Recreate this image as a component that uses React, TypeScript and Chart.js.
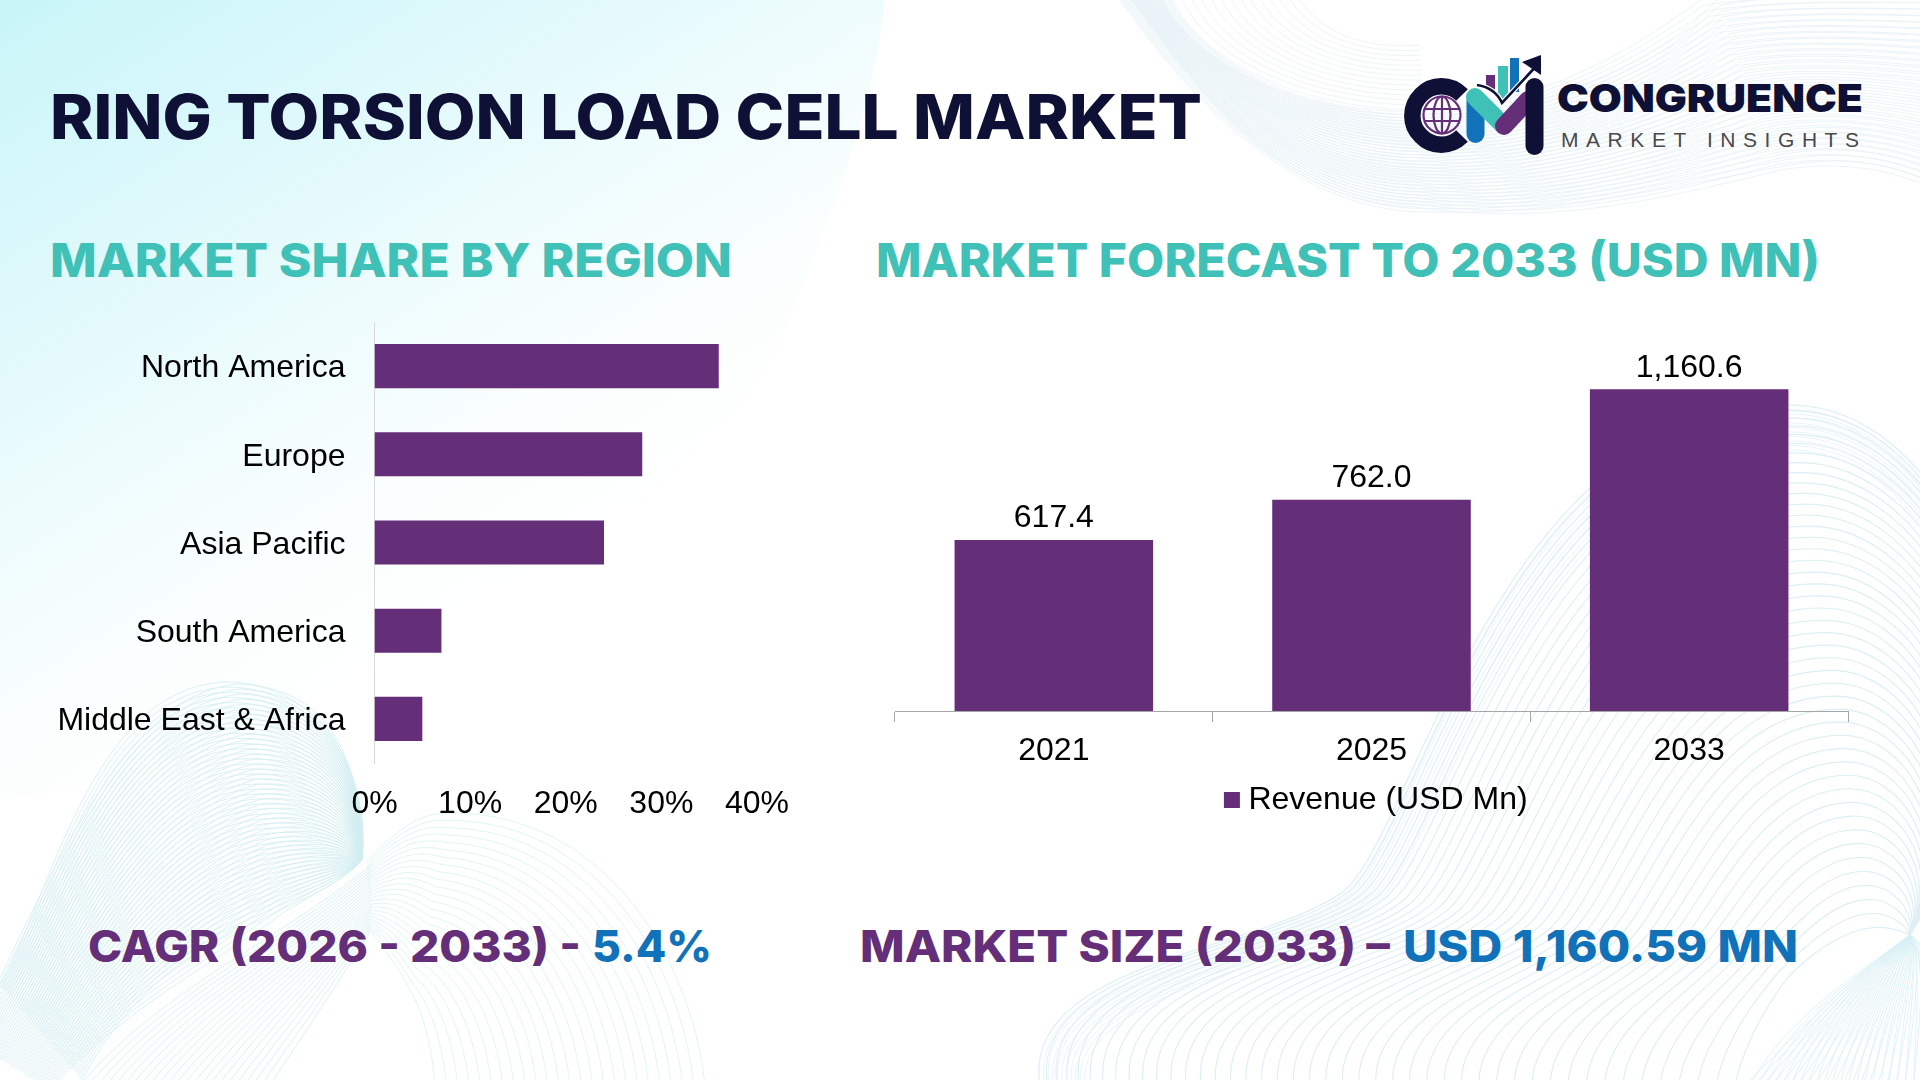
import { useEffect, useRef } from "react";
import { Chart, registerables } from "chart.js";

Chart.register(...registerables);

const regions = ["North America", "Europe", "Asia Pacific", "South America", "Middle East & Africa"];
const regionShares = [36, 28, 24, 7, 5];
const shareTickStep = 10;
const shareMax = 40;

const years = ["2021", "2025", "2033"];
const revenue = [617.4, 762.0, 1160.6];
const revenueLabel = "Revenue (USD Mn)";
const revenueMax = 1400;

const BAR = "#642e78";
const TICK_FONT = { family: "'Liberation Sans'", size: 32 };

// bar value labels, there is no datalabels package here
const valueLabels = {
  id: "valueLabels",
  afterDatasetsDraw(chart) {
    const { ctx } = chart;
    ctx.save();
    ctx.font = "32px 'Liberation Sans'";
    ctx.fillStyle = "#000";
    ctx.textAlign = "center";
    ctx.textBaseline = "middle";
    chart.getDatasetMeta(0).data.forEach((bar, i) => {
      const text = revenue[i].toLocaleString("en-US", { minimumFractionDigits: 1 });
      ctx.fillText(text, bar.x, bar.y - 21.5);
    });
    ctx.restore();
  },
};

const ShareChart = () => {
  const ref = useRef(null);
  useEffect(() => {
    const chart = new Chart(ref.current, {
      type: "bar",
      data: {
        labels: regions,
        datasets: [{ data: regionShares, backgroundColor: BAR, barPercentage: 0.5, categoryPercentage: 1 }],
      },
      options: {
        indexAxis: "y",
        animation: false,
        responsive: false,
        layout: { padding: { top: 22, right: 63 } },
        plugins: { legend: { display: false }, tooltip: { enabled: false } },
        scales: {
          x: {
            min: 0,
            max: shareMax,
            grid: { display: false },
            border: { display: false },
            afterFit: (s) => { s.height = 57; },
            ticks: {
              stepSize: shareTickStep,
              color: "#000",
              font: TICK_FONT,
              padding: 14,
              maxRotation: 0,
              callback: (v) => v + "%",
            },
          },
          y: {
            grid: { display: false, drawTicks: false },
            border: { color: "#d9d9d9" },
            // the label padding would otherwise push the plot top down
            afterFit: (s) => {
              s.width = 374.5;
              s.paddingTop = 0;
              s.paddingBottom = 0;
            },
            ticks: { color: "#000", font: TICK_FONT, padding: 29, labelOffset: 2.5 },
          },
        },
      },
    });
    return () => chart.destroy();
  }, []);
  return (
    <canvas ref={ref} width={820} height={520} style={{ position: "absolute", left: 0, top: 300 }} />
  );
};

const RevenueChart = () => {
  const ref = useRef(null);
  useEffect(() => {
    const chart = new Chart(ref.current, {
      type: "bar",
      data: {
        labels: years,
        datasets: [
          { label: revenueLabel, data: revenue, backgroundColor: BAR, borderWidth: 0, barPercentage: 0.625, categoryPercentage: 1 },
        ],
      },
      plugins: [valueLabels],
      options: {
        animation: false,
        responsive: false,
        layout: { padding: { top: 13, left: 56, right: 56 } },
        plugins: {
          tooltip: { enabled: false },
          legend: {
            position: "bottom",
            labels: {
              color: "#000",
              font: TICK_FONT,
              usePointStyle: true,
              pointStyle: "rect",
              boxWidth: 1,
              boxHeight: 16,
              padding: 10,
            },
          },
        },
        scales: {
          x: {
            grid: { offset: true, drawOnChartArea: false, color: "#a6a6a6", tickLength: 11 },
            border: { color: "#a6a6a6" },
            afterFit: (s) => { s.height = 63; },
            ticks: { color: "#000", font: TICK_FONT, padding: 10 },
          },
          // hidden, its width only moves the legend centre to the right of the plot centre
          y: {
            position: "right",
            min: 0,
            max: revenueMax,
            grid: { display: false },
            border: { display: false },
            ticks: { display: false },
            afterFit: (s) => { s.width = 16; },
          },
        },
      },
    });
    return () => chart.destroy();
  }, []);
  return (
    <canvas ref={ref} width={1081} height={516} style={{ position: "absolute", left: 839, top: 310 }} />
  );
};

// background line ribbons: each one blends between two edge curves
const lerpPath = (a, b, t) => {
  const p = a.map((v, i) => (v + (b[i] - v) * t).toFixed(1));
  let d = `M${p[0]} ${p[1]}`;
  for (let i = 2; i < p.length; i += 6) {
    d += `C${p[i]} ${p[i + 1]} ${p[i + 2]} ${p[i + 3]} ${p[i + 4]} ${p[i + 5]}`;
  }
  return d;
};

const Ribbon = ({ a, b, n, color, width = 1, power = 1 }) => (
  <g fill="none" stroke={color} strokeWidth={width}>
    {Array.from({ length: n + 1 }, (_, i) => (
      <path key={i} d={lerpPath(a, b, Math.pow(i / n, power))} />
    ))}
  </g>
);

const wideEdge = [1040, 1085, 1020, 960, 1270, 950, 1345, 890, 1415, 830, 1500, 405, 1790, 405, 1940, 405, 2080, 650, 1910, 935];

const Background = () => (
  <svg width={1920} height={1080} style={{ position: "absolute", left: 0, top: 0 }}>
    <defs>
      <linearGradient id="wash" gradientUnits="userSpaceOnUse" x1={0} y1={0} x2={560} y2={900}>
        <stop offset="0" stopColor="#c8f5f8" />
        <stop offset="0.2" stopColor="#daf8fb" />
        <stop offset="0.44" stopColor="#effcfd" />
        <stop offset="0.6" stopColor="#fbfefe" />
        <stop offset="0.75" stopColor="#ffffff" />
      </linearGradient>
    </defs>
    <rect width={1920} height={1080} fill="#fff" />
    <path d="M0 0L885 0C870 130 820 240 780 340C700 520 300 760 0 800Z" fill="url(#wash)" />

    {/* bottom left */}
    <Ribbon a={[0, 985, 50, 900, 90, 690, 223, 682, 310, 680, 372, 760, 362, 860]}
      b={[82, 1080, 130, 990, 190, 950, 260, 920, 300, 900, 340, 885, 362, 860]} n={46} color="#d2edf1" width={0.8} />
    <Ribbon a={[-30, 1040, 40, 900, 120, 690, 240, 684, 340, 690, 360, 770, 362, 860]}
      b={[50, 1090, 120, 1010, 220, 960, 280, 915, 310, 895, 345, 880, 362, 860]} n={46} color="#d2edf1" width={0.8} />
    <Ribbon a={[371, 865, 280, 940, 160, 990, 80, 1085]} b={[371, 930, 340, 980, 300, 1040, 270, 1085]} n={22} color="#dcf2f4" />
    <Ribbon a={[366, 862, 410, 815, 430, 813, 455, 813, 600, 815, 690, 950, 705, 1085]}
      b={[371, 930, 385, 950, 400, 970, 410, 990, 425, 1015, 432, 1050, 435, 1085]} n={24} color="#e2f5f6" />

    {/* bottom right */}
    <Ribbon a={wideEdge}
      b={[1735, 1085, 1745, 1040, 1770, 1000, 1790, 975, 1820, 945, 1850, 930, 1870, 928, 1885, 926, 1900, 930, 1910, 935]}
      n={44} color="#dceef6" width={1.1} power={1.2} />
    <Ribbon a={wideEdge}
      b={[1085, 1085, 1075, 990, 1300, 970, 1375, 905, 1445, 845, 1530, 450, 1790, 450, 1930, 450, 2050, 670, 1910, 935]}
      n={10} color="#e3f1f8" width={0.8} />
    <Ribbon a={[1910, 935, 1880, 960, 1790, 1010, 1750, 1085]} b={[1910, 935, 1925, 960, 1930, 990, 1930, 1085]} n={22} color="#d8f0f5" width={0.8} />
    <Ribbon a={[1910, 935, 1860, 970, 1810, 1020, 1745, 1085]} b={[1910, 935, 1935, 950, 1940, 1000, 1940, 1085]} n={22} color="#d8f0f5" width={0.8} />

    {/* top right */}
    <Ribbon a={[1131, 0, 1180, 60, 1260, 200, 1414, 207, 1540, 225, 1640, 205, 1780, 170, 1840, 160, 1890, 170, 1925, 185]}
      b={[1163, 0, 1190, 60, 1290, 115, 1424, 115, 1520, 115, 1640, 80, 1717, 0, 1760, -10, 1840, -10, 1925, -10]}
      n={30} color="#e6f1f6" width={0.8} />
    <Ribbon a={[1120, 0, 1170, 70, 1280, 215, 1430, 212, 1560, 215, 1650, 190, 1790, 165, 1850, 155, 1890, 165, 1925, 180]}
      b={[1170, 0, 1210, 70, 1310, 120, 1440, 110, 1540, 100, 1620, 60, 1700, 0, 1760, -10, 1840, -10, 1925, -10]}
      n={30} color="#e6f1f6" width={0.8} />
    <Ribbon a={[1163, 0, 1190, 60, 1290, 115, 1424, 115]} b={[1300, 0, 1320, 30, 1360, 50, 1420, 45]} n={14} color="#eef5f9" />
  </svg>
);

const Heading = ({ x, y, w, size, color, children, weight = 800, family = "Inter", adjust = "spacingAndGlyphs" }) => (
  <text x={x} y={y} textLength={w} lengthAdjust={adjust} fontFamily={family} fontWeight={weight} fontSize={size} fill={color}>
    {children}
  </text>
);

const Logo = () => (
  <g>
    {/* C and globe */}
    <path d="M1462 95A29 29 0 1 0 1462 136" fill="none" stroke="#0f1035" strokeWidth={16.5} />
    <g fill="none" stroke="#642e78" strokeWidth={2.2}>
      <circle cx={1442} cy={115} r={18.5} />
      <ellipse cx={1442} cy={115} rx={8.5} ry={18.5} />
      <path d="M1442 96.500V133.500M1424 109H1460M1424 121H1460" />
    </g>
    {/* M */}
    <path d="M1475.500 101V134" stroke="#1272b9" strokeWidth={18} strokeLinecap="round" />
    <path d="M1475 97L1503 125" stroke="#3fc1b7" strokeWidth={18} strokeLinecap="round" />
    <path d="M1504 126L1528 100" stroke="#642e78" strokeWidth={18} strokeLinecap="round" />
    <path d="M1534.500 87V146" stroke="#0f1035" strokeWidth={18} strokeLinecap="round" />
    {/* bars and arrow */}
    <rect x={1486} y={75} width={9} height={15} fill="#642e78" />
    <rect x={1498} y={66} width={10} height={34} fill="#3fc1b7" />
    <rect x={1510} y={58} width={9} height={34} fill="#1272b9" />
    <path d="M1477 85C1490 87 1498 94 1502 103L1540 62" fill="none" stroke="#fff" strokeWidth={5} />
    <path d="M1477 85C1490 87 1498 94 1502 103L1540 62" fill="none" stroke="#0f1035" strokeWidth={2.6} />
    <path d="M1522 62L1541 55V75Z" fill="#0f1035" />
    <Heading x={1557} y={112} w={306} size={38.5} color="#0f1035" weight={900}>CONGRUENCE</Heading>
    <Heading x={1561} y={147} w={298} size={21} color="#4a4a4a" weight={400} family="'Liberation Sans'" adjust="spacing">
      MARKET INSIGHTS
    </Heading>
  </g>
);

const Texts = () => (
  <svg width={1920} height={1080} style={{ position: "absolute", left: 0, top: 0 }}>
    <Heading x={50} y={139} w={1152} size={62} color="#0f1035">RING TORSION LOAD CELL MARKET</Heading>
    <Heading x={50} y={277} w={682} size={46.500} color="#3fc1b7">MARKET SHARE BY REGION</Heading>
    <Heading x={876} y={277} w={944} size={46.500} color="#3fc1b7">MARKET FORECAST TO 2033 (USD MN)</Heading>
    <Heading x={88} y={962} w={493} size={44} color="#642e78">CAGR (2026 - 2033) -</Heading>
    <Heading x={592} y={962} w={120} size={44} color="#1272b9">5.4%</Heading>
    <Heading x={860} y={962} w={530} size={44} color="#642e78">MARKET SIZE (2033) –</Heading>
    <Heading x={1403} y={962} w={395} size={44} color="#1272b9">USD 1,160.59 MN</Heading>
    <Logo />
  </svg>
);

const App = () => (
  <div style={{ position: "absolute", left: 0, top: 0, width: 1920, height: 1080, overflow: "hidden", background: "#fff" }}>
    <Background />
    <Texts />
    <ShareChart />
    <RevenueChart />
  </div>
);

export default App;
